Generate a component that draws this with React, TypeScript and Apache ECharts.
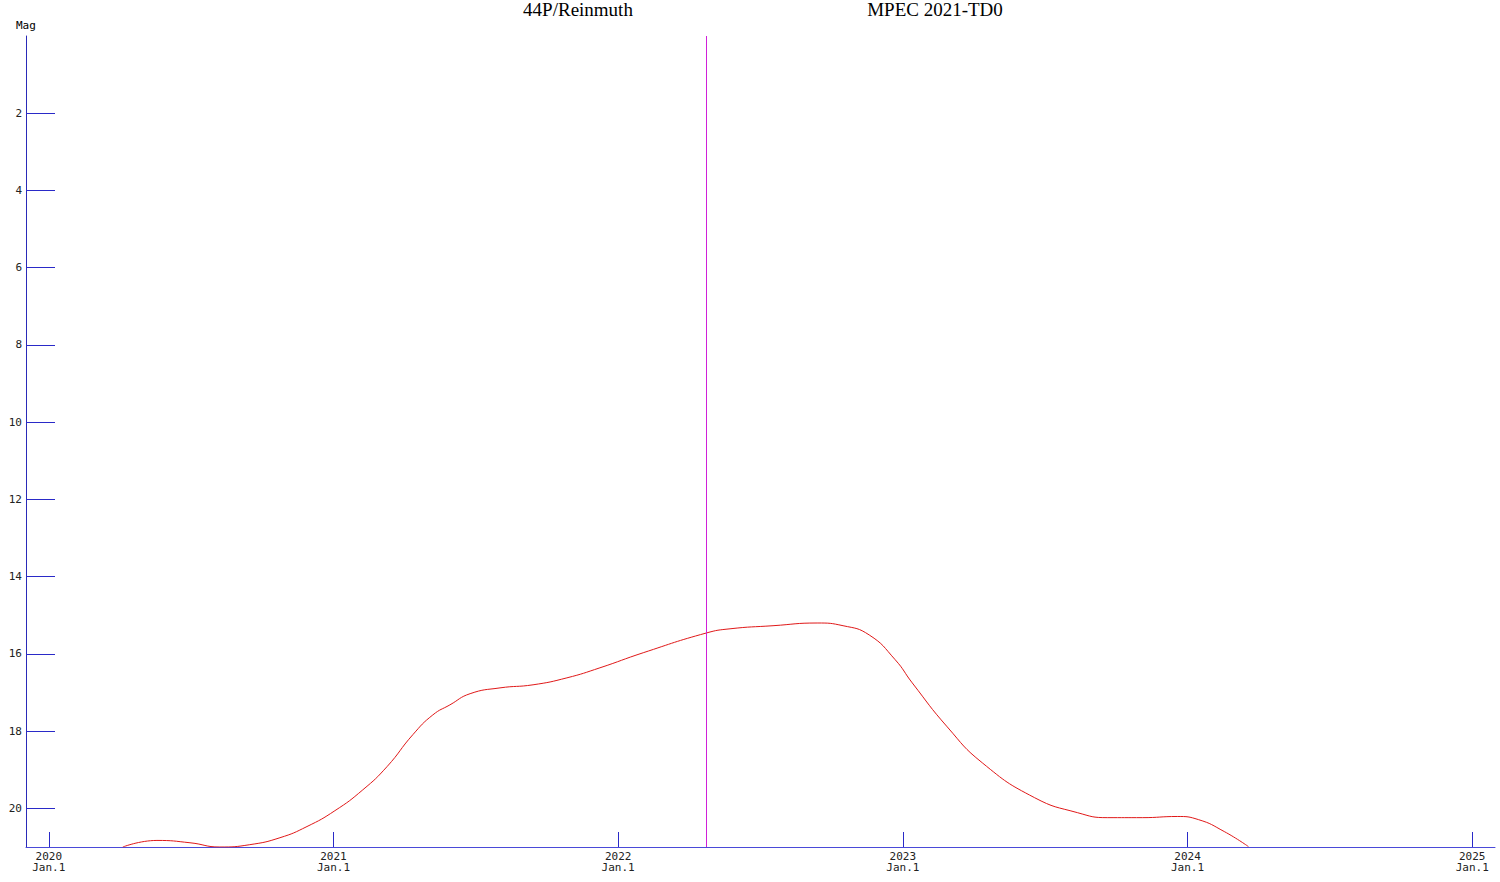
import React, { useEffect, useRef } from "react";
import * as echarts from "echarts";

const years = [
  2020.26, 2020.38, 2020.496, 2020.601, 2020.706, 2020.812, 2020.907, 2021.005,
  2021.103, 2021.188, 2021.279, 2021.349, 2021.409, 2021.48, 2021.585, 2021.701,
  2021.82, 2021.936, 2022.088, 2022.309, 2022.393, 2022.544, 2022.699, 2022.79,
  2022.882, 2022.973, 2023.033, 2023.156, 2023.279, 2023.462, 2023.613, 2023.718,
  2023.841, 2023.964, 2024.038, 2024.129, 2024.214,
];
const mags = [
  21.0, 20.83, 20.89, 21.0, 20.94, 20.76, 20.47, 20.06,
  19.52, 18.92, 18.09, 17.58, 17.32, 17.03, 16.88, 16.8,
  16.62, 16.36, 15.97, 15.46, 15.35, 15.27, 15.2, 15.27,
  15.51, 16.15, 16.75, 17.89, 18.82, 19.72, 20.11, 20.24,
  20.24, 20.21, 20.29, 20.6, 20.99,
];
const yearTicks = [2020, 2021, 2022, 2023, 2024, 2025];
const magTicks = [2, 4, 6, 8, 10, 12, 14, 16, 18, 20];
const nowYear = 2022.309;
const objectName = "44P/Reinmuth";
const sourceName = "MPEC 2021-TD0";

export default function App() {
  const ref = useRef<HTMLDivElement>(null);
  useEffect(() => {
    if (!ref.current) return;
    const chart = echarts.init(ref.current, null, { renderer: "svg" });
    const mono = "DejaVu Sans Mono";
    chart.setOption({
      animation: false,
      backgroundColor: "#ffffff",
      grid: { left: 26, top: 36, right: 5, bottom: 35 },
      graphic: [
        { type: "text", left: 16, top: 20, style: { text: "Mag", font: `11px ${mono}`, fill: "#000" } },
        { type: "text", x: 578, y: 0, style: { text: objectName, font: "19px 'Liberation Serif'", fill: "#000", textAlign: "center" } },
        { type: "text", x: 935, y: 0, style: { text: sourceName, font: "19px 'Liberation Serif'", fill: "#000", textAlign: "center" } },
      ],
      xAxis: {
        type: "value",
        position: "bottom",
        min: 2019.92,
        max: 2025.08,
        splitLine: { show: false },
        axisLine: { show: true, onZero: false, lineStyle: { color: "#4a4ad8", width: 1 } },
        axisTick: {
          show: true,
          inside: true,
          length: 15,
          customValues: yearTicks,
          lineStyle: { color: "#2a2ac8", width: 1 },
        },
        axisLabel: {
          customValues: yearTicks,
          formatter: (v: number) => `${Math.round(v)}\nJan.1`,
          fontFamily: mono,
          fontSize: 11,
          lineHeight: 11,
          color: "#222",
          margin: 4,
        },
      },
      yAxis: {
        type: "value",
        inverse: true,
        min: 0,
        max: 21,
        splitLine: { show: false },
        axisLine: { show: true, onZero: false, lineStyle: { color: "#2a2ab8", width: 1 } },
        axisTick: {
          show: true,
          inside: true,
          length: 29,
          customValues: magTicks,
          lineStyle: { color: "#2a2ac8", width: 1 },
        },
        axisLabel: {
          customValues: magTicks,
          fontFamily: mono,
          fontSize: 11,
          color: "#222",
          margin: 4,
        },
      },
      series: [
        {
          type: "line",
          data: years.map((y, i) => [y, mags[i]]),
          smooth: 0.5,
          showSymbol: false,
          clip: true,
          lineStyle: { color: "#e01818", width: 1 },
          markLine: {
            silent: true,
            symbol: ["none", "none"],
            label: { show: false },
            lineStyle: { color: "#d020d8", width: 1, type: "solid" },
            data: [{ xAxis: nowYear }],
          },
        },
      ],
    });
    return () => chart.dispose();
  }, []);
  return <div ref={ref} style={{ position: "fixed", left: 0, top: 0, width: 1500, height: 882 }} />;
}
